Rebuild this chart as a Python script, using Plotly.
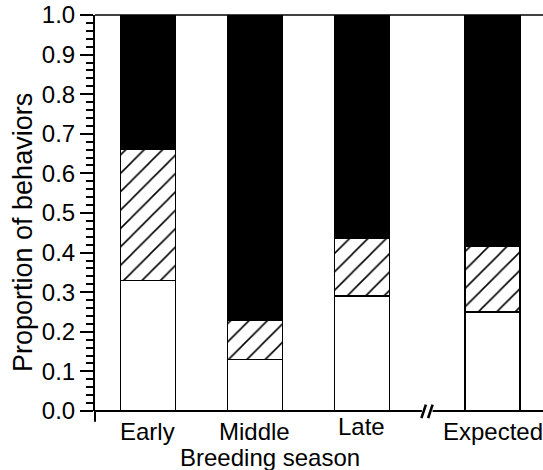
import plotly.graph_objects as go

categories = ["Early", "Middle", "Late", "Expected"]
x_pos = [1.0, 2.0, 3.0, 4.22]
white_vals = [0.33, 0.13, 0.29, 0.25]
hatched_vals = [0.33, 0.10, 0.145, 0.165]
black_vals = [0.34, 0.77, 0.565, 0.585]
y_ticks = [0.0, 0.1, 0.2, 0.3, 0.4, 0.5, 0.6, 0.7, 0.8, 0.9, 1.0]
y_tick_labels = ["0.0", "0.1", "0.2", "0.3", "0.4", "0.5", "0.6", "0.7", "0.8", "0.9", "1.0"]
break_x = 3.61

FONT = "Liberation Sans, Arial, Helvetica, sans-serif"
xr = [0.505, 4.692]
bw = 0.514

fig = go.Figure()
line = dict(color="black", width=1.5)
fig.add_trace(go.Bar(x=x_pos, y=white_vals, width=bw, marker=dict(color="white", line=line)))
fig.add_trace(go.Bar(x=x_pos, y=hatched_vals, width=bw,
                     marker=dict(color="white", line=line,
                                 pattern=dict(shape="/", fgcolor="black", bgcolor="white",
                                              fgopacity=1, size=13, solidity=0.12,
                                              fillmode="replace"))))
fig.add_trace(go.Bar(x=x_pos, y=black_vals, width=bw, marker=dict(color="black", line=line)))

def px(xd):
    return (xd - xr[0]) / (xr[1] - xr[0])

bp = px(break_x)
shapes = []
shapes.append(dict(type="line", xref="paper", yref="paper", x0=0, x1=bp - 0.012, y0=0, y1=0,
                   line=dict(color="black", width=2)))
shapes.append(dict(type="line", xref="paper", yref="paper", x0=bp + 0.012, x1=1, y0=0, y1=0,
                   line=dict(color="black", width=2)))
for dx in (-0.008, 0.007):
    shapes.append(dict(type="line", xref="paper", yref="paper",
                       x0=bp + dx - 0.005, x1=bp + dx + 0.005, y0=-0.018, y1=0.016,
                       line=dict(color="black", width=2.6)))
shapes.append(dict(type="line", xref="paper", yref="paper", x0=0, x1=1, y0=1, y1=1,
                   line=dict(color="black", width=1.5)))
shapes.append(dict(type="line", xref="paper", yref="paper", x0=0, x1=0, y0=0, y1=-0.027,
                   line=dict(color="black", width=2)))
fig.update_layout(shapes=shapes)

label_y = [-0.051, -0.051, -0.040, -0.051]
annotations = []
for xv, txt, ly in zip(x_pos, categories, label_y):
    annotations.append(dict(x=xv, y=ly, xref="x", yref="paper", text=txt, showarrow=False,
                            xanchor="center", yanchor="middle", font=dict(size=24)))
annotations.append(dict(x=(270 - 95) / 448, y=-0.118, xref="paper", yref="paper",
                        text="Breeding season", showarrow=False, xanchor="center",
                        yanchor="middle", font=dict(size=24)))
annotations.append(dict(x=(23 - 95) / 448, y=(411 - 233) / 396, xref="paper", yref="paper",
                        text="Proportion of behaviors", showarrow=False, xanchor="center",
                        yanchor="middle", textangle=-90, font=dict(size=27)))
fig.update_layout(annotations=annotations)

fig.update_layout(
    barmode="stack",
    showlegend=False,
    width=543, height=470,
    margin=dict(l=95, r=0, t=15, b=59),
    plot_bgcolor="white", paper_bgcolor="white",
    font=dict(family=FONT, size=24, color="black"),
    xaxis=dict(range=xr, showticklabels=False, showline=False,
               showgrid=False, zeroline=False, ticks=""),
    yaxis=dict(range=[0, 1.0], tickvals=y_ticks, ticktext=y_tick_labels,
               showline=True, linecolor="black", linewidth=2,
               ticks="outside", ticklen=13, tickwidth=2, tickcolor="black",
               minor=dict(dtick=0.02, ticks="outside", ticklen=7, tickwidth=1.5, tickcolor="black"),
               showgrid=False, zeroline=False, tickfont=dict(size=24)),
)

fig.write_html("out.html")
